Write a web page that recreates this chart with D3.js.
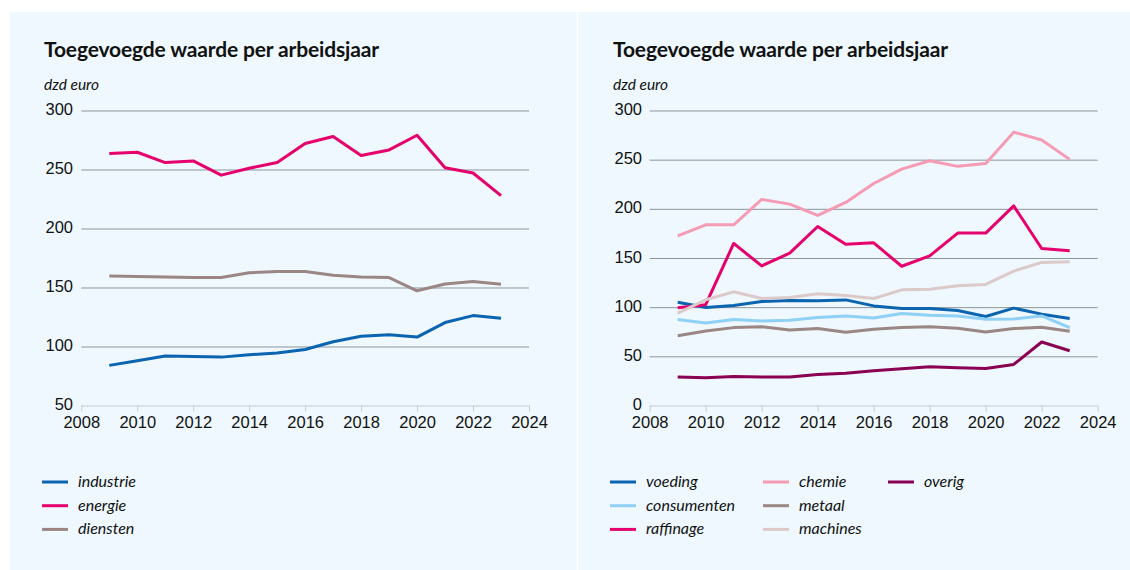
<!DOCTYPE html>
<html><head><meta charset="utf-8">
<script src="https://cdn.jsdelivr.net/npm/d3@7"></script>
<style>
html,body{margin:0;padding:0;background:#fff;}
svg{display:block;font-family:Lato,"Noto Sans",sans-serif;}
.tick text{font-variant-numeric:oldstyle-nums;font-feature-settings:"onum" 1;}
</style></head><body>
<svg id="c" width="1130" height="570"></svg>
<script>
const years = [2009,2010,2011,2012,2013,2014,2015,2016,2017,2018,2019,2020,2021,2022,2023];
const industrie = [84,88,92,91.5,91,93,94.4,97.5,104,108.7,109.9,108,120.3,126.2,124];
const energie = [263.5,264.6,255.9,257.3,245.2,251,256,272,278,261.8,266.6,279,251.4,247,227.8];
const diensten = [159.8,159.3,159,158.5,158.5,162.5,163.5,163.5,160.4,159,158.4,147.2,153,155,152.8];

const voeding = [105,99.6,101.8,105.7,106.7,106.4,107.4,101.3,98.6,98.6,96.6,90.5,99,92.9,88.5];
const consumenten = [87.4,84,87.4,86,86.7,89.4,91.1,89,93.5,91.8,91.1,87.7,88,91.1,79.2];
const raffinage = [99.3,102.5,164.8,142,154.9,182,164,165.4,141.6,152.2,175.3,175.3,203,159.7,157.3];
const chemie = [172.5,183.7,183.7,209.6,204.8,193.3,206.5,225.8,240.4,248.9,243.2,246.2,278,270,250.3];
const metaal = [71,75.8,79.2,80.2,76.8,78.2,74.5,77.5,79.2,80.2,78.5,74.8,78.2,79.5,75.5];
const machines = [93.9,107.5,115.6,108.8,109.8,113.6,111.9,108.8,117.6,118.3,121.7,123.1,136.7,145.5,146.2];
const overig = [28.9,28.2,29.6,28.9,28.9,31.6,32.9,35.3,37.3,39.4,38.4,37.7,41.8,64.6,55.7];

const xTicks = [2008,2010,2012,2014,2016,2018,2020,2022,2024];
const yTicksLeft = [50,100,150,200,250,300];
const yTicksRight = [0,50,100,150,200,250,300];
const title = "Toegevoegde waarde per arbeidsjaar";
const unit = "dzd euro";

const leftSeries = [
  {name:"industrie", values:industrie, color:"#0b64b0"},
  {name:"energie", values:energie, color:"#e5006e"},
  {name:"diensten", values:diensten, color:"#9a8682"}
];
const rightSeries = [
  {name:"voeding", values:voeding, color:"#0b64b0"},
  {name:"consumenten", values:consumenten, color:"#8fd0f6"},
  {name:"raffinage", values:raffinage, color:"#e5006e"},
  {name:"chemie", values:chemie, color:"#f59bb4"},
  {name:"metaal", values:metaal, color:"#9a8682"},
  {name:"machines", values:machines, color:"#dccaca"},
  {name:"overig", values:overig, color:"#8a0052"}
];

const svg = d3.select("#c");
svg.append("rect").attr("x",10).attr("y",12).attr("width",1120).attr("height",558).attr("fill","#eef8fe");
svg.append("line").attr("x1",577.5).attr("x2",577.5).attr("y1",12).attr("y2",570).attr("stroke","#fff").attr("stroke-width",1.5);

function panel(cfg){
  const g = svg.append("g");
  g.append("text").attr("x",cfg.tx).attr("y",57).text(title)
    .attr("font-size",21).attr("font-weight",700).attr("fill","#111").attr("letter-spacing",-0.15);
  g.append("text").attr("x",cfg.tx).attr("y",90).text(unit)
    .attr("font-size",15.5).attr("font-style","italic").attr("fill","#111");
  const x = d3.scaleLinear().domain([2008,2024]).range([cfg.x0,cfg.x1]);
  const y = d3.scaleLinear().domain(cfg.ydom).range([cfg.yb,110.5]);
  const yAx = d3.axisLeft(y).tickValues(cfg.yticks).tickSize(-(cfg.x1-cfg.x0)).tickPadding(cfg.x0-cfg.lx);
  const ya = g.append("g").attr("transform",`translate(${cfg.x0},0)`).call(yAx);
  ya.select(".domain").remove();
  ya.selectAll(".tick line").attr("stroke",d=>d===cfg.ydom[0]?"#c3ccd3":"#8c959c").attr("stroke-width",1);
  ya.selectAll(".tick text").attr("font-size",16.5).attr("fill","#111").attr("dy","0.25em");
  const xAx = d3.axisBottom(x).tickValues(xTicks).tickFormat(d3.format("d")).tickSize(6).tickPadding(5);
  const xa = g.append("g").attr("transform",`translate(0,${cfg.yb})`).call(xAx);
  xa.select(".domain").remove();
  xa.selectAll(".tick line").attr("stroke","#c3ccd3");
  xa.selectAll(".tick text").attr("font-size",16.5).attr("fill","#111");
  const line = d3.line().x((d,i)=>x(years[i])).y(d=>y(d));
  cfg.series.forEach(s=>{
    g.append("path").attr("d",line(s.values)).attr("fill","none").attr("stroke",s.color)
      .attr("stroke-width",3).attr("stroke-linejoin","round").attr("stroke-linecap","butt");
  });
  cfg.series.forEach((s,i)=>{
    const col = Math.floor(i/3), row = i%3;
    const lx = cfg.legX[col], ly = 482 + row*23.7;
    g.append("line").attr("x1",lx).attr("x2",lx+26).attr("y1",ly).attr("y2",ly).attr("stroke",s.color).attr("stroke-width",3);
    g.append("text").attr("x",lx+36).attr("y",ly+5).text(s.name).attr("font-size",16).attr("font-style","italic").attr("fill","#111");
  });
}

panel({tx:44, x0:81.3, x1:529, lx:73, ydom:[50,300], yb:405.5, yticks:yTicksLeft, series:leftSeries, legX:[42]});
panel({tx:613, x0:649.7, x1:1097.7, lx:642, ydom:[0,300], yb:405.5, yticks:yTicksRight, series:rightSeries, legX:[610,763,888]});
</script>
</body></html>
